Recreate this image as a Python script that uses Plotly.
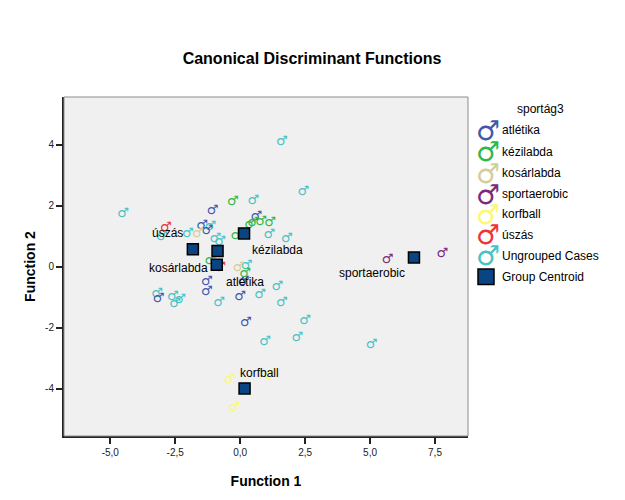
import plotly.graph_objects as go

# ---- data ----
groups = ["atlétika", "kézilabda", "kosárlabda", "sportaerobic", "korfball", "úszás", "Ungrouped Cases"]
colors = ["#3E58AC", "#2EB848", "#D3CE97", "#7C287D", "#FBF873", "#EF3338", "#48C2C5"]

atletika_x = [-1.47, -1.26, -1.06, 0.62, -1.28, -1.28, 0.00, 0.22, -3.14, 0.13]
atletika_y = [1.33, 1.17, 1.84, 1.64, -0.49, -0.82, -1.00, -1.84, -1.05, -0.49]

kezilabda_x = [-0.28, 0.38, 0.50, 0.81, 1.15, -0.15, -1.15, 0.19]
kezilabda_y = [2.13, 1.38, 1.45, 1.48, 1.44, 1.00, 0.20, -0.22]

kosarlabda_x = [-1.63, -0.06]
kosarlabda_y = [1.07, -0.05]

sportaerobic_x = [5.67, 7.78]
sportaerobic_y = [0.24, 0.42]

korfball_x = [-0.41, 1.15, -0.22]
korfball_y = [-3.69, -3.58, -4.61]

uszas_x = [-2.86, -0.77]
uszas_y = [1.28, -0.05]

ungrouped_x = [1.60, -4.51, 0.51, 2.43, 1.12, 1.80, 1.43, 0.77, 1.60, 2.50, 2.20, 0.96,
               5.06, -2.01, -3.01, -0.96, -0.77, -1.15, 0.25, -3.20, -2.59, -2.31, -2.50, -0.81]
ungrouped_y = [4.08, 1.75, 2.15, 2.44, 1.04, 0.93, -0.66, -0.93, -1.17, -1.78, -2.32, -2.47,
               -2.55, 1.07, 0.98, 0.93, 0.80, 1.31, 0.02, -0.90, -1.00, -1.09, -1.22, -1.18]

centroid_names = ["úszás", "atlétika", "kosárlabda", "kézilabda", "sportaerobic", "korfball"]
centroid_x = [-1.82, -0.87, -0.90, 0.15, 6.69, 0.17]
centroid_y = [0.57, 0.51, 0.06, 1.09, 0.30, -3.99]
# where SPSS put the centroid labels
label_x = [-2.78, 0.17, -2.37, 1.45, 5.07, 0.73]
label_y = [1.10, -0.49, -0.03, 0.55, -0.22, -3.49]

xticks = [-5, -2.5, 0, 2.5, 5, 7.5]
xtick_text = ["-5,0", "-2,5", "0,0", "2,5", "5,0", "7,5"]
yticks = [4, 2, 0, -2, -4]
ytick_text = ["4", "2", "0", "-2", "-4"]

series = [
    (atletika_x, atletika_y),
    (kezilabda_x, kezilabda_y),
    (kosarlabda_x, kosarlabda_y),
    (sportaerobic_x, sportaerobic_y),
    (korfball_x, korfball_y),
    (uszas_x, uszas_y),
    (ungrouped_x, ungrouped_y),
]

FONT = "Liberation Sans, Arial, sans-serif"
SYM = "DejaVu Sans"
OFF = 8                      # page body margin
W, H = 625 - OFF, 500 - OFF
L, R, T, B = 64, 468, 97, 436   # plot area in page pixels


def px(x):
    return (x - L) / (R - L)


def py(y):
    return (B - y) / (B - T)


fig = go.Figure()

# ungrouped cases drawn first, then groups
order = [6, 0, 1, 2, 3, 4, 5]
for i in order:
    xs, ys = series[i]
    fig.add_trace(go.Scatter(
        x=xs, y=ys, mode="text", text=["♂"] * len(xs),
        textfont=dict(family=SYM, size=13, color=colors[i]),
        name=groups[i], showlegend=False, hoverinfo="x+y+name",
    ))

fig.add_trace(go.Scatter(
    x=centroid_x, y=centroid_y, mode="markers", name="Group Centroid",
    marker=dict(symbol="square", size=11, color="#0B4483", line=dict(color="black", width=1.5)),
    text=centroid_names, showlegend=False,
))

annotations = []
for name, lx, ly in zip(centroid_names, label_x, label_y):
    annotations.append(dict(x=lx, y=ly, xref="x", yref="y", text=name, showarrow=False,
                            font=dict(family=FONT, size=12, color="black")))

# custom legend (the ♂ glyph can't be a legend symbol)
def legend_text(x, y, text, anchor="left", font=FONT, size=12, color="black"):
    return dict(x=px(x), y=py(y), xref="paper", yref="paper", text=text, showarrow=False,
                xanchor=anchor, yanchor="middle", font=dict(family=font, size=size, color=color))


annotations.append(legend_text(540, 109, "sportág3", anchor="center"))
rows = [130, 151.5, 173, 194, 214, 234.5, 255.5]
for g, c, ry in zip(groups, colors, rows):
    annotations.append(legend_text(487.5, ry, "♂", anchor="center", font=SYM, size=27, color=c))
    annotations.append(legend_text(500, ry, g))
annotations.append(legend_text(500, 276.5, "Group Centroid"))

shapes = [
    dict(type="rect", xref="paper", yref="paper", x0=0, x1=1, y0=0, y1=1,
         line=dict(color="#8C8C8C", width=1), fillcolor="rgba(0,0,0,0)", layer="above"),
    dict(type="rect", xref="paper", yref="paper", x0=px(478), x1=px(494), y0=py(284.5), y1=py(269),
         line=dict(color="black", width=1.5), fillcolor="#0B4483"),
]

fig.update_layout(
    width=W, height=H,
    margin=dict(l=L - OFF, r=W - (R - OFF), t=T - OFF, b=H - (B - OFF), pad=0),
    paper_bgcolor="white", plot_bgcolor="#F0F0F0",
    title=dict(text="<b>Canonical Discriminant Functions</b>", x=(312 - OFF) / W, xref="container",
               xanchor="center", y=1 - (58 - OFF) / H, yanchor="middle",
               font=dict(family=FONT, size=16, color="black")),
    annotations=annotations, shapes=shapes,
    font=dict(family=FONT, color="black"),
)
fig.update_xaxes(
    range=[-6.78, 8.77], tickvals=xticks, ticktext=xtick_text, showgrid=False, zeroline=False,
    ticks="outside", ticklen=6, tickwidth=1.5, tickcolor="#222", tickfont=dict(size=10, color="#222"),
    showline=True, linecolor="#222", linewidth=2, automargin=False,
    title=dict(text="<b>Function 1</b>", font=dict(size=14, color="black"), standoff=19),
)
fig.update_yaxes(
    range=[-5.55, 5.56], tickvals=yticks, ticktext=ytick_text, showgrid=False, zeroline=False,
    ticks="outside", ticklen=6, tickwidth=1.5, tickcolor="#222", tickfont=dict(size=10, color="#222"),
    showline=True, linecolor="#222", linewidth=2, automargin=False,
    title=dict(text="<b>Function 2</b>", font=dict(size=14, color="black"), standoff=6),
)

fig.write_html("out.html")
